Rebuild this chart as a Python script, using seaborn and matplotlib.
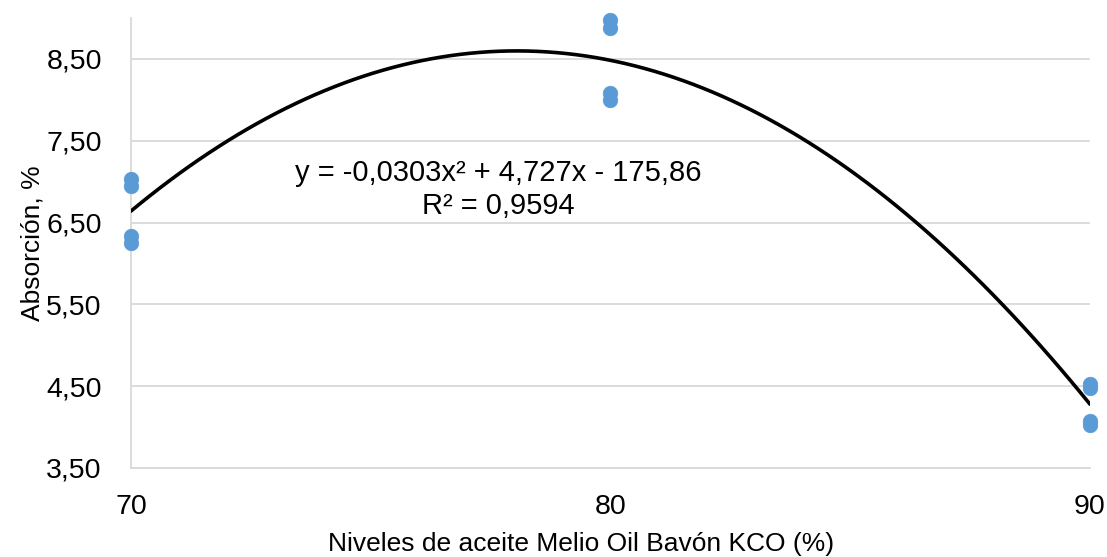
import numpy as np
import pandas as pd
import matplotlib
matplotlib.use("Agg")
import matplotlib.pyplot as plt
import seaborn as sns

# Oil level (%) and measured absorption (%) for each replicate
niveles = [70, 70, 70, 70, 80, 80, 80, 80, 90, 90, 90, 90]
absorcion = [7.03, 6.95, 6.33, 6.25, 8.97, 8.88, 8.08, 8.00, 4.53, 4.48, 4.08, 4.03]

x_ticks = [70, 80, 90]
x_tick_labels = ["70", "80", "90"]
y_ticks = [3.5, 4.5, 5.5, 6.5, 7.5, 8.5]
y_tick_labels = ["3,50", "4,50", "5,50", "6,50", "7,50", "8,50"]

ecuacion = "y = -0,0303x² + 4,727x - 175,86"
r2_texto = "R² = 0,9594"

df = pd.DataFrame({"nivel": niveles, "absorcion": absorcion})

sns.set_theme(style="white")
plt.rcParams["font.family"] = ["Liberation Sans", "DejaVu Sans"]
plt.rcParams["text.color"] = "black"
plt.rcParams["axes.labelcolor"] = "black"

fig = plt.figure(figsize=(11.07, 5.57), dpi=100)
ax = fig.add_axes([0.1183, 0.1598, 0.8663, 0.8079])

grid_color = "#D9D9D9"
for yv in y_ticks:
    ax.axhline(yv, color=grid_color, lw=1.3, zorder=0)

# Second-order polynomial trendline
sns.regplot(data=df, x="nivel", y="absorcion", order=2, ci=None, scatter=False,
            line_kws={"color": "black", "lw": 2.6, "zorder": 3}, ax=ax)

sns.scatterplot(data=df, x="nivel", y="absorcion", s=110, color="#5B9BD5",
                edgecolor="#5B9BD5", linewidth=0.5, zorder=4, ax=ax, clip_on=False)

ax.set_xlim(70, 90)
ax.set_ylim(3.5, 9.0)
ax.set_xticks(x_ticks)
ax.set_xticklabels(x_tick_labels)
ax.set_yticks(y_ticks)
ax.set_yticklabels(y_tick_labels)
ax.tick_params(axis="both", length=0, labelsize=20.5, colors="black")
ax.tick_params(axis="x", pad=19)
ax.tick_params(axis="y", pad=21)

for side in ["top", "right"]:
    ax.spines[side].set_visible(False)
for side in ["left", "bottom"]:
    ax.spines[side].set_color(grid_color)
    ax.spines[side].set_linewidth(1.3)

ax.set_xlabel("Niveles de aceite Melio Oil Bavón KCO (%)", fontsize=19, color="black")
ax.xaxis.set_label_coords(0.469, -0.142)
ax.set_ylabel("Absorción, %", fontsize=19, color="black")
ax.yaxis.label.set_verticalalignment("center")
ax.yaxis.label.set_horizontalalignment("center")
ax.yaxis.set_label_coords(-0.103, 0.5)

ax.text(77.67, 7.10, ecuacion, ha="center", va="center", fontsize=21,
        color="black", zorder=5)
ax.text(77.67, 6.70, r2_texto, ha="center", va="center", fontsize=21,
        color="black", zorder=5)

fig.savefig("out.png", dpi=100)
